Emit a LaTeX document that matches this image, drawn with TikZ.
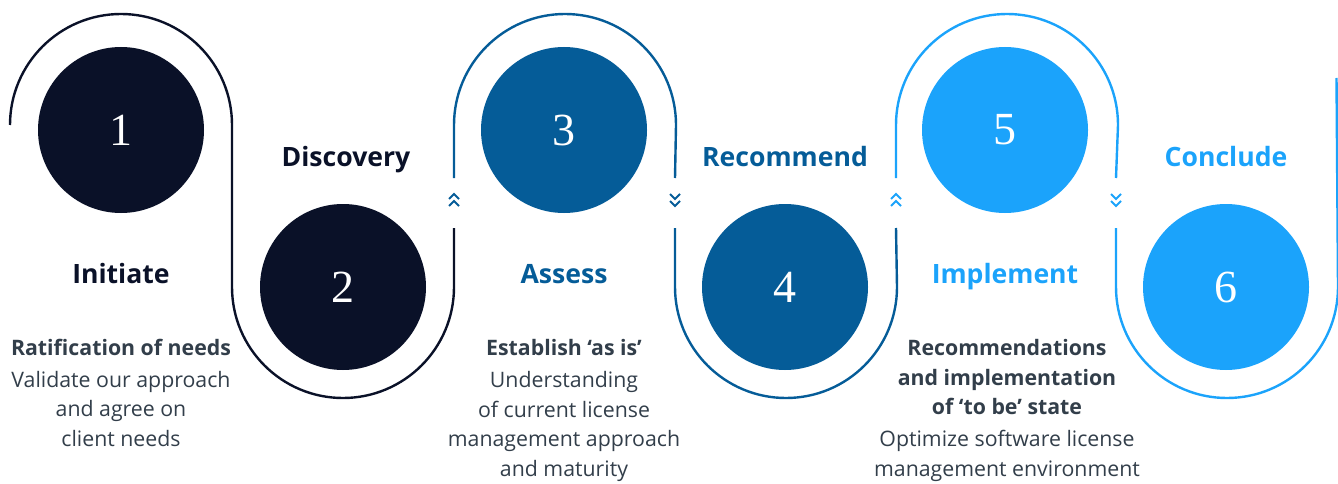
\documentclass[tikz,border=0pt]{standalone}
\usepackage{fontspec}
\setmainfont{Open Sans}
\newfontfamily\numfont{Liberation Serif}
\definecolor{navy}{HTML}{0A1128}
\definecolor{midblue}{HTML}{055C98}
\definecolor{skyblue}{HTML}{1BA3FB}
\definecolor{txtgray}{HTML}{323E4A}

\begin{document}
\begin{tikzpicture}[x=1pt,y=1pt]
    \tikzstyle{every node}+=[inner sep=0pt]
    \tikzstyle{stepdot}=[circle, minimum size=166pt, text=white, font=\numfont\fontsize{46}{46}\selectfont]
    \tikzstyle{track}=[line width=2.4pt]
    \tikzstyle{chev}=[line width=1.8pt]
    \tikzstyle{heading}=[anchor=base, font=\bfseries\fontsize{26.6}{30}\selectfont]
    \tikzstyle{blurb}=[anchor=base, align=center, text=txtgray, font=\fontsize{21.3}{29.4}\selectfont]
    \useasboundingbox (0,0) rectangle (1338,-484);
    % the winding track
    \draw [track, navy] (10,-125) arc (180:0:111) -- (232,-287) arc (180:360:111) -- (454,-228);
    \draw [track, midblue] (454,-178) -- (454,-125) arc (180:0:111) -- (675,-178);
    \draw [track, midblue] (675,-228) -- (675,-287) arc (180:360:111) -- (896,-228);
    \draw [track, skyblue] (896,-178) -- (896,-125) arc (180:0:111) -- (1116,-178);
    \draw [track, skyblue] (1116,-228) -- (1116,-287) arc (180:360:111) -- (1336.5,-78);
    % chevrons in the gaps
    \foreach \x/\c in {454/midblue, 896/skyblue} {
        \draw [chev, \c] (\x-5,-199) -- (\x,-194) -- (\x+5,-199);
        \draw [chev, \c] (\x-5,-206) -- (\x,-201) -- (\x+5,-206);
    }
    \foreach \x/\c in {675/midblue, 1116/skyblue} {
        \draw [chev, \c] (\x-5,-194) -- (\x,-199) -- (\x+5,-194);
        \draw [chev, \c] (\x-5,-201) -- (\x,-206) -- (\x+5,-201);
    }
    % steps
    \node [stepdot, fill=navy] (s1) at (121,-130) {1};
    \node [stepdot, fill=navy] (s2) at (343,-287) {2};
    \node [stepdot, fill=midblue] (s3) at (564,-130) {3};
    \node [stepdot, fill=midblue] (s4) at (785,-287) {4};
    \node [stepdot, fill=skyblue] (s5) at (1005,-130) {5};
    \node [stepdot, fill=skyblue] (s6) at (1226,-287) {6};
    \node [heading, text=navy] (h1) at (121,-283) {Initiate};
    \node [heading, text=navy] (h2) at (346,-166) {Discovery};
    \node [heading, text=midblue] (h3) at (564,-283) {Assess};
    \node [heading, text=midblue] (h4) at (785,-166) {Recommend};
    \node [heading, text=skyblue] (h5) at (1005,-283) {Implement};
    \node [heading, text=skyblue] (h6) at (1226,-166) {Conclude};
    % blurbs, placed by the baseline of their last line
    \node [blurb] (b1) at (121,-446) {\textbf{Ratification of needs}\\[2.6pt]Validate our approach\\and agree on\\client needs};
    \node [blurb] (b3) at (564,-476) {\textbf{Establish ‘as is’}\\[2.6pt]Understanding\\of current license\\management approach\\and maturity};
    \node [blurb] (b5) at (1007,-476) {\textbf{Recommendations}\\\textbf{and implementation}\\\textbf{of ‘to be’ state}\\[2.6pt]Optimize software license\\management environment};
\end{tikzpicture}
\end{document}
